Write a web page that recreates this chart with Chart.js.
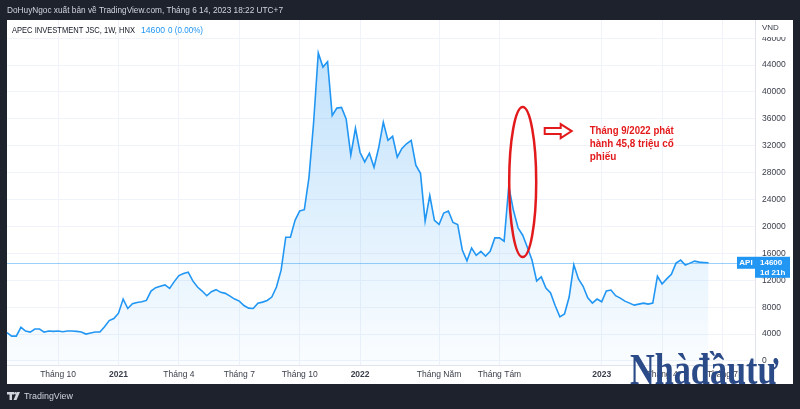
<!DOCTYPE html>
<html>
<head>
<meta charset="utf-8">
<script src="https://cdn.jsdelivr.net/npm/chart.js@4.4.0/dist/chart.umd.min.js"></script>
<style>
  html, body { margin: 0; padding: 0; background: #1e222d; overflow: hidden; }
  #c { position: absolute; left: 0; top: 0; }
</style>
</head>
<body>
<canvas id="c" width="800" height="409"></canvas>
<script>
// Giá đóng cửa theo tuần của API (HNX), từ tuần 20/07/2020 tới tuần 12/06/2023
const firstWeek = '2020-07-20';
const prices = [
  4200, 3700, 3700, 5000, 4450, 4300, 4750, 4750, 4300, 4450,
  4400, 4450, 4350, 4450, 4450, 4400, 4300, 4000, 4150,
  4300, 4300, 5100, 6000, 6300, 7100, 9200, 7800, 8500, 8700,
  8800, 9000, 10400, 10900, 11100, 11300, 10800, 11800, 12700, 13000,
  13200, 11900, 11000, 10400, 9700, 10300, 10600, 10200, 10050, 9650,
  9200, 8900, 8250, 7850, 7800, 8600, 8750, 9000, 9500, 11000,
  13500, 18400, 18400, 20900, 22300, 22500, 27300, 35500, 45800, 43700,
  44500, 36500, 37600, 37700, 36000, 30600, 34600, 31000, 29600, 30900,
  28800, 31700, 35500, 32800, 33400, 30300, 31600, 32300, 32800, 29100,
  27900, 20800, 24600, 20900, 20300, 22000, 22300, 20600, 20300, 16500,
  14900, 16800, 15700, 16300, 15600, 16300, 18300, 18300, 17800, 26000,
  22400, 19800, 18700, 16900, 15000, 11900, 12500, 10850, 10100, 8200,
  6550, 7000, 9500, 14300, 12200, 11100, 9400, 8600, 9200, 8800,
  10400, 10550, 9700, 9350, 8900, 8600, 8300, 8450, 8600, 8450,
  8600, 12600, 11450, 12200, 12900, 14550, 15000, 14250, 14550, 14850,
  14700, 14650, 14600
];
const futureWeeks = 10;   // khoảng trống bên phải như TradingView
const lastPrice = 14600;

// nhãn trục thời gian
const xTickDates = ['2020-10-05', '2021-01-04', '2021-04-05', '2021-07-05', '2021-10-04', '2022-01-03',
                    '2022-05-02', '2022-08-01', '2023-01-02', '2023-04-03', '2023-07-03'];
const xTickText  = ['Tháng 10', '2021', 'Tháng 4', 'Tháng 7', 'Tháng 10', '2022',
                    'Tháng Năm', 'Tháng Tám', '2023', 'Tháng 4', 'Tháng 7'];
const yTicks = [0, 4000, 8000, 12000, 16000, 20000, 24000, 28000, 32000, 36000, 40000, 44000, 48000];

// chú thích đỏ: tuần phát hành tháng 9/2022
const noteWeek = '2022-09-05';
const noteValue = 26600;
const noteLines = ['Tháng 9/2022 phát', 'hành 45,8 triệu cổ', 'phiếu'];

// ngày của từng tuần (nhãn danh mục)
const weeks = [];
const t0 = Date.parse(firstWeek + 'T00:00:00Z');
for (let i = 0; i < prices.length + futureWeeks; i++) {
  weeks.push(new Date(t0 + i * 7 * 864e5).toISOString().slice(0, 10));
}

const FONT = '"Liberation Sans", Arial, sans-serif';
const BLUE = '#2196f3';

const framePlugin = {
  id: 'tvFrame',
  beforeDraw(chart) {
    const c = chart.ctx;
    c.save();
    c.fillStyle = '#1e222d';
    c.fillRect(0, 0, chart.width, chart.height);
    c.fillStyle = '#ffffff';
    c.fillRect(7, 20, 786, 364);
    c.restore();
  },
  beforeDatasetsDraw(chart) {
    const c = chart.ctx, a = chart.chartArea;
    const y = Math.round(chart.scales.y.getPixelForValue(lastPrice)) + 0.5;
    c.save();
    c.strokeStyle = 'rgba(33,150,243,0.45)';
    c.lineWidth = 1;
    c.beginPath();
    c.moveTo(a.left, y);
    c.lineTo(a.right, y);
    c.stroke();
    c.restore();
  },
  afterDraw(chart) {
    const c = chart.ctx, a = chart.chartArea;
    const xs = chart.scales.x, ys = chart.scales.y;
    c.save();

    // dòng tiêu đề trên nền tối
    c.fillStyle = '#d1d4dc';
    c.font = '9.5px ' + FONT;
    c.textBaseline = 'middle';
    c.textAlign = 'left';
    c.fillText('DoHuyNgoc xuất bản về TradingView.com, Tháng 6 14, 2023 18:22 UTC+7', 7, 10, 276);

    // legend
    c.fillStyle = '#131722';
    c.font = '9.5px ' + FONT;
    c.fillText('APEC INVESTMENT JSC, 1W, HNX', 12, 30, 123);
    c.fillStyle = BLUE;
    c.fillText('14600', 141, 30, 24);
    c.fillText('0 (0.00%)', 168, 30, 35);

    // đơn vị trục
    c.fillStyle = '#ffffff';
    c.fillRect(a.right + 1, 21, 36, 16);
    c.fillStyle = '#3a3e4a';
    c.font = '8px ' + FONT;
    c.fillText('VND', a.right + 7, 28);

    // nhãn giá cuối
    const py = ys.getPixelForValue(lastPrice);
    c.fillStyle = BLUE;
    c.fillRect(a.right - 18, py - 6, 18, 12);
    c.fillRect(a.right, py - 6, 35, 21);
    c.fillStyle = '#ffffff';
    c.font = 'bold 8px ' + FONT;
    c.textAlign = 'center';
    c.fillText('API', a.right - 9, py);
    c.textAlign = 'left';
    c.fillText('14600', a.right + 5, py);
    c.fillText('1d 21h', a.right + 5, py + 10);

    // chú thích đỏ
    const cx = xs.getPixelForValue(weeks.indexOf(noteWeek));
    const cy = ys.getPixelForValue(noteValue);
    c.strokeStyle = '#e31a1c';
    c.lineWidth = 2.5;
    c.beginPath();
    c.ellipse(cx, cy, 13.5, 75, 0, 0, Math.PI * 2);
    c.stroke();
    // mũi tên rỗng
    const ax = cx + 22, ay = cy - 51;
    c.lineWidth = 2;
    c.beginPath();
    c.moveTo(ax, ay - 3);
    c.lineTo(ax + 16, ay - 3);
    c.lineTo(ax + 16, ay - 7);
    c.lineTo(ax + 27, ay);
    c.lineTo(ax + 16, ay + 7);
    c.lineTo(ax + 16, ay + 3);
    c.lineTo(ax, ay + 3);
    c.closePath();
    c.stroke();
    c.fillStyle = '#e31a1c';
    c.font = 'bold 10px ' + FONT;
    c.fillText(noteLines[0], cx + 67, cy - 51, 84);
    c.fillText(noteLines[1], cx + 67, cy - 38, 84);
    c.fillText(noteLines[2], cx + 67, cy - 25, 30);

    // logo TradingView
    c.fillStyle = '#d1d4dc';
    c.fillRect(7, 392, 7, 2.5);
    c.fillRect(9.5, 392, 2.5, 8);
    c.beginPath();
    c.arc(15.5, 393.3, 1.3, 0, Math.PI * 2);
    c.fill();
    c.beginPath();
    c.moveTo(17, 392);
    c.lineTo(20, 392);
    c.lineTo(16.5, 400);
    c.lineTo(13.5, 400);
    c.closePath();
    c.fill();
    c.font = '9.5px ' + FONT;
    c.fillText('TradingView', 24, 396, 49);

    // watermark Nhàđầutư
    c.fillStyle = '#2b4a88';
    c.font = 'bold 44px "Liberation Serif", "DejaVu Serif", serif';
    c.textBaseline = 'alphabetic';
    const wm = 'Nhàđầutư';
    const w = c.measureText(wm).width;
    c.translate(630, 384);
    c.scale(148 / w, 1);
    c.fillText(wm, 0, 0);

    c.restore();
  }
};

new Chart(document.getElementById('c'), {
  type: 'line',
  data: {
    labels: weeks,
    datasets: [{
      label: 'API',
      data: prices,
      borderColor: BLUE,
      borderWidth: 1.6,
      pointRadius: 0,
      tension: 0,
      fill: 'start',
      backgroundColor: (ctx) => {
        const area = ctx.chart.chartArea;
        if (!area) return 'rgba(33,150,243,0.15)';
        const g = ctx.chart.ctx.createLinearGradient(0, area.top, 0, area.bottom);
        g.addColorStop(0, 'rgba(33,150,243,0.30)');
        g.addColorStop(1, 'rgba(33,150,243,0.02)');
        return g;
      }
    }]
  },
  options: {
    responsive: false,
    animation: false,
    devicePixelRatio: 1,
    layout: { padding: { left: 7, top: 20, right: 7, bottom: 25 } },
    plugins: { legend: { display: false }, tooltip: { enabled: false } },
    scales: {
      x: {
        type: 'category',
        offset: false,
        afterFit(s) { s.height = 19; },
        grid: { color: '#f0f3fa', drawTicks: false },
        border: { display: true, color: '#e0e3eb' },
        ticks: {
          autoSkip: false,
          maxRotation: 0,
          padding: 5,
          color: '#3a3e4a',
          font: (ctx) => {
            const t = ctx.tick && ctx.tick.label;
            return { family: FONT, size: 8.5, weight: /^\d{4}$/.test(t) ? 'bold' : 'normal' };
          },
          callback(value) {
            const k = xTickDates.indexOf(this.getLabelForValue(value));
            return k >= 0 ? xTickText[k] : null;
          }
        }
      },
      y: {
        position: 'right',
        min: -600,
        max: 50700,
        afterFit(s) { s.width = 38; },
        afterBuildTicks(s) { s.ticks = yTicks.map(v => ({ value: v })); },
        grid: { color: '#f0f3fa', drawTicks: false },
        border: { display: true, color: '#e0e3eb' },
        ticks: {
          padding: 7,
          color: '#3a3e4a',
          font: { family: FONT, size: 8.5 },
          callback: (v) => String(v)
        }
      }
    }
  },
  plugins: [framePlugin]
});
</script>
</body>
</html>
